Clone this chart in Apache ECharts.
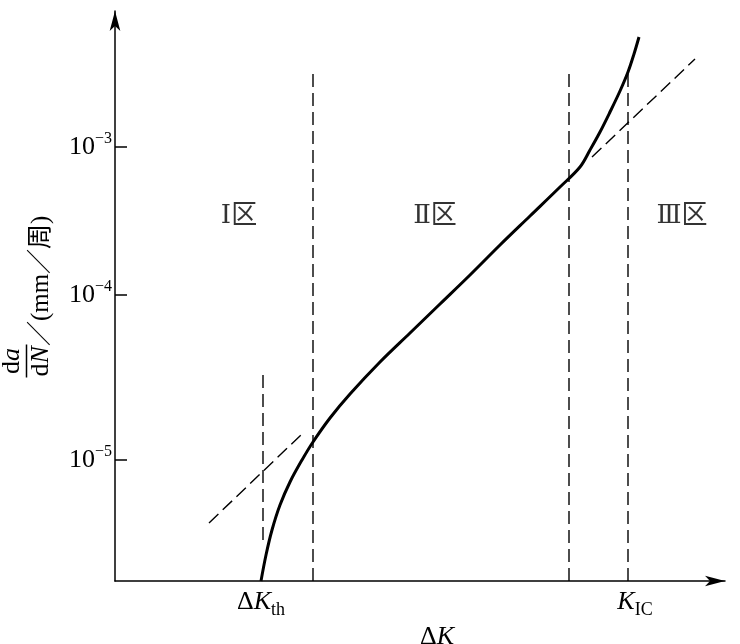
<!DOCTYPE html>
<html>
<head>
<meta charset="utf-8">
<script src="https://cdn.jsdelivr.net/npm/echarts@6.0.0/dist/echarts.min.js"></script>
<style>
  html, body { margin: 0; padding: 0; background: #fff; }
  #chart { width: 740px; height: 644px; }
</style>
</head>
<body>
<div id="chart"></div>
<script>
// schematic units: x ~ ΔK, y ~ lg(da/dN), origin at the axes corner
const curveX = [146, 151, 157, 165, 175, 187, 198, 215, 235, 265, 295, 325, 355, 385, 415, 445, 465, 475, 485, 495, 505, 513, 519, 524]
const curveY = [0, 26, 51, 76, 99, 121, 139, 163, 187, 219, 248, 277, 306, 336, 365, 394, 414, 431, 449, 469, 490, 509, 527, 544]

// vertical dashed guides
const guideX = [148, 198, 454, 513]
const guideBottom = [41, 0, 0, 0]
const guideTop = [209, 509, 509, 508]

// dashed tangents (region I and region III extrapolation of the Paris line)
const tangentLowX = [94, 188]
const tangentLowY = [58, 148]
const tangentHighX = [477, 580]
const tangentHighY = [424, 522]

// y ticks: 10^-5, 10^-4, 10^-3
const yTickValues = [121, 286, 434]
const yTickExp = ['−5', '−4', '−3']

// x labels
const xLabelValues = [146, 520]
const xLabelPrefix = ['Δ', '']
const xLabelSub = ['th', 'IC']

// zone labels
const regionNames = ['Ⅰ区', 'Ⅱ区', 'Ⅲ区']
const regionX = [124, 320, 567]
const regionY = [365, 365, 365]

const serif = '"Liberation Serif", "DejaVu Serif", serif'
const cjk = '"Liberation Serif", "DejaVu Serif", "Noto Sans CJK SC", serif'

const dashed = {
  type: 'line',
  symbol: 'none',
  silent: true,
  lineStyle: { color: '#000', width: 1.4, type: [13, 6] }
}

const zip = (xs, ys) => xs.map((x, i) => [x, ys[i]])

const chart = echarts.init(document.getElementById('chart'))

const option = {
  animation: false,
  backgroundColor: '#fff',
  grid: {
    left: 115,
    right: 15,
    top: 11,
    bottom: 63,
    containLabel: false,
    outerBoundsMode: 'none'
  },
  xAxis: {
    type: 'value',
    min: 0,
    max: 610,
    axisLine: {
      show: true,
      symbol: ['none', 'arrow'],
      symbolSize: [8, 20],
      lineStyle: { color: '#000', width: 1.5 }
    },
    axisTick: { show: false },
    splitLine: { show: false },
    axisLabel: {
      customValues: xLabelValues,
      margin: 4,
      color: '#000',
      formatter: function (value) {
        const i = xLabelValues.indexOf(value)
        if (i < 0) return ''
        const pre = xLabelPrefix[i] ? '{d|' + xLabelPrefix[i] + '}' : ''
        return pre + '{k|K}{sub|' + xLabelSub[i] + '}'
      },
      rich: {
        d: { fontFamily: serif, fontSize: 26, lineHeight: 34, color: '#000' },
        k: { fontFamily: serif, fontSize: 26, fontStyle: 'italic', lineHeight: 34, color: '#000' },
        sub: { fontFamily: serif, fontSize: 18, lineHeight: 18, verticalAlign: 'bottom', color: '#000' }
      }
    },
    name: '{d|Δ}{k|K}',
    nameLocation: 'middle',
    nameGap: 36,
    nameTextStyle: {
      padding: [0, 0, 0, 34],
      rich: {
        d: { fontFamily: serif, fontSize: 26, color: '#000' },
        k: { fontFamily: serif, fontSize: 26, fontStyle: 'italic', color: '#000' }
      }
    }
  },
  yAxis: {
    type: 'value',
    min: 0,
    max: 570,
    axisLine: {
      show: true,
      symbol: ['none', 'arrow'],
      symbolSize: [8, 20],
      lineStyle: { color: '#000', width: 1.5 }
    },
    axisTick: {
      show: true,
      inside: true,
      length: 12,
      customValues: yTickValues,
      lineStyle: { color: '#000', width: 1.5 }
    },
    splitLine: { show: false },
    axisLabel: {
      customValues: yTickValues,
      margin: 3,
      formatter: function (value) {
        const i = yTickValues.indexOf(value)
        if (i < 0) return ''
        return '{b|10}{s|' + yTickExp[i] + '}'
      },
      rich: {
        b: { fontFamily: serif, fontSize: 26, lineHeight: 32, color: '#000' },
        s: { fontFamily: serif, fontSize: 16, lineHeight: 14, verticalAlign: 'top', color: '#000' }
      }
    },
    name: '{nd|d}{na|a}{sp| }\n{bar| }{sp2| }\n{d|d}{n|N}{rest|／(mm／周)}',
    nameLocation: 'middle',
    nameRotate: 90,
    nameGap: 62,
    nameTextStyle: {
      rich: {
        nd: { fontFamily: serif, fontSize: 26, lineHeight: 24, align: 'center', color: '#000' },
        na: { fontFamily: serif, fontSize: 26, fontStyle: 'italic', lineHeight: 24, align: 'center', color: '#000' },
        sp: { fontSize: 10, width: 130, lineHeight: 24, align: 'center' },
        bar: { fontSize: 2, width: 33, height: 1.5, lineHeight: 5, backgroundColor: '#000' },
        sp2: { fontSize: 2, width: 130, lineHeight: 5 },
        d: { fontFamily: serif, fontSize: 26, lineHeight: 24, color: '#000' },
        n: { fontFamily: serif, fontSize: 26, fontStyle: 'italic', lineHeight: 24, color: '#000' },
        rest: { fontFamily: cjk, fontSize: 25, lineHeight: 24, color: '#000' }
      }
    }
  },
  series: [
    ...guideX.map((x, i) => ({
      ...dashed,
      data: [[x, guideBottom[i]], [x, guideTop[i]]]
    })),
    { ...dashed, data: zip(tangentLowX, tangentLowY) },
    { ...dashed, data: zip(tangentHighX, tangentHighY) },
    {
      type: 'line',
      symbol: 'none',
      silent: true,
      smooth: 0.35,
      lineStyle: { color: '#000', width: 3 },
      data: zip(curveX, curveY)
    },
    {
      type: 'scatter',
      silent: true,
      symbolSize: 1,
      itemStyle: { color: 'transparent' },
      label: {
        show: true,
        position: 'inside',
        formatter: '{b}',
        color: '#000',
        fontSize: 26,
        fontFamily: cjk
      },
      data: regionNames.map((n, i) => ({ name: n, value: [regionX[i], regionY[i]] }))
    }
  ]
}

chart.setOption(option)
</script>
</body>
</html>
